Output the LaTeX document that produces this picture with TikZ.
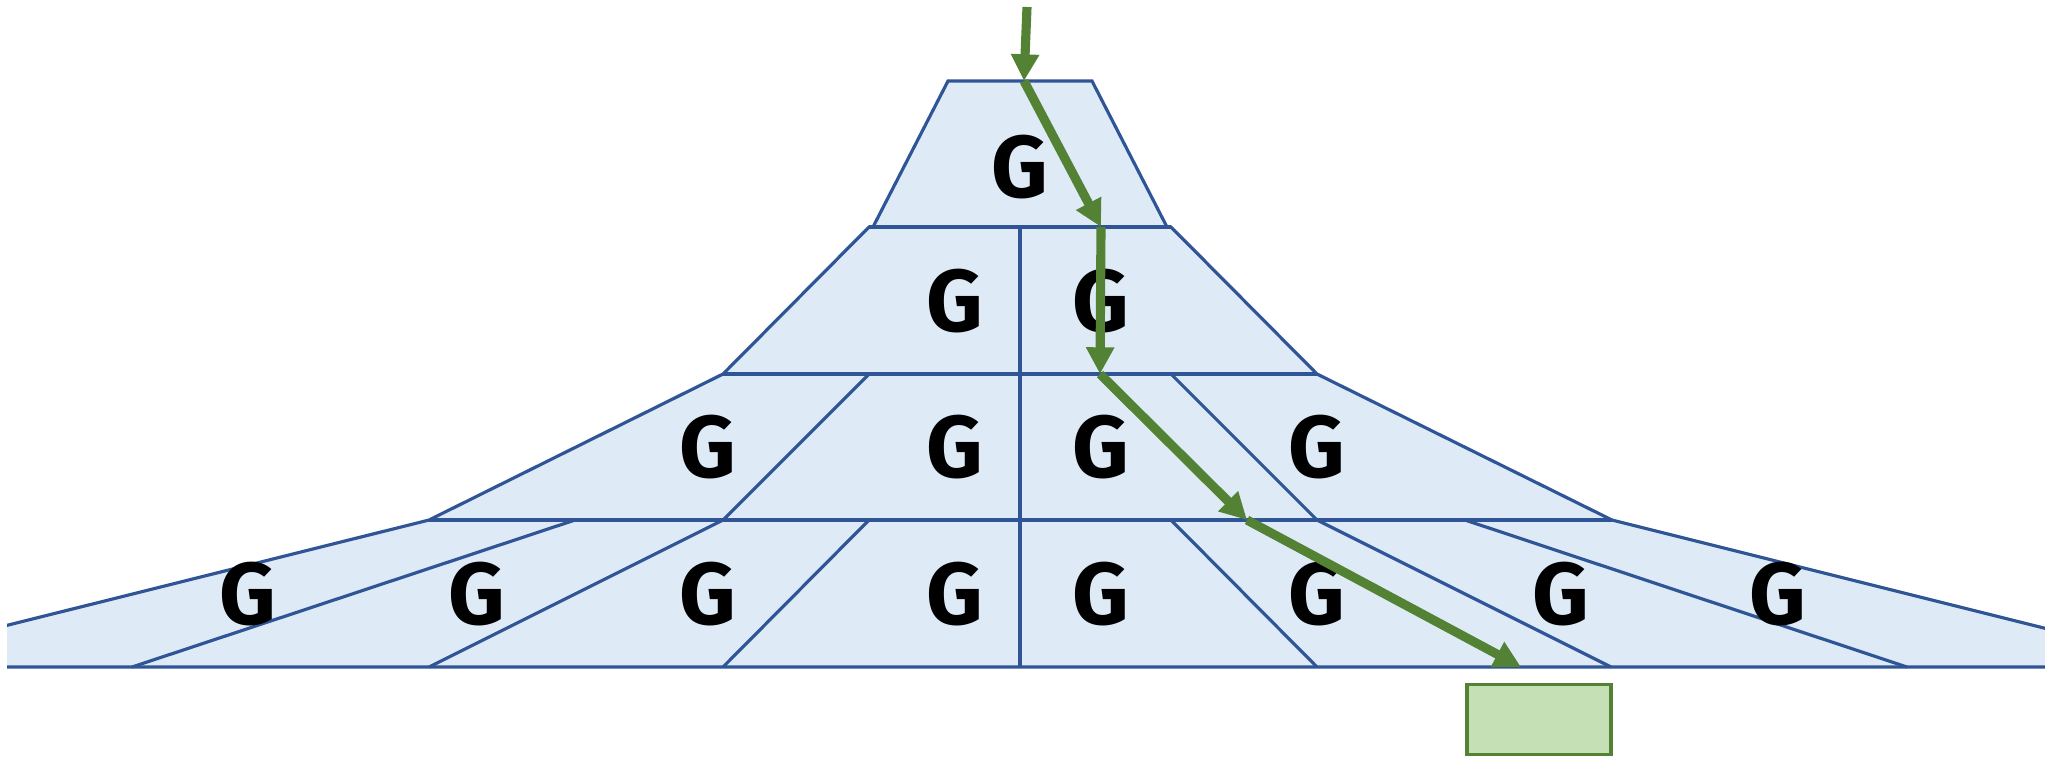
\documentclass[tikz,border=0pt]{standalone}
\usepackage{fontspec}
\setmainfont{Fira Sans}
\usepackage{xcolor}
\usepackage{tikz}
\usetikzlibrary{arrows.meta,positioning}
\definecolor{cellblue}{RGB}{222,235,247}
\definecolor{edgeblue}{RGB}{47,85,151}
\definecolor{pathgreen}{RGB}{84,130,53}
\definecolor{lightgreen}{RGB}{197,224,180}

\begin{document}
\begin{tikzpicture}[x=0.01cm,y=-0.01cm,font=\fontsize{25}{29}\selectfont\bfseries,
  cell/.style={draw=edgeblue,line width=0.9pt},
  gate/.style={inner sep=0pt},
  flow/.style={draw=pathgreen,line width=2.6pt,-{Triangle[length=7.6pt,width=7.6pt]}},
  outbox/.style={draw=pathgreen,line width=1pt,fill=lightgreen,minimum width=1.44cm,minimum height=0.7cm,inner sep=0pt}
]
  \useasboundingbox (0,0) rectangle (2045,756);
  % pyramid of cells, cut at the picture edges
  \begin{scope}
    \clip (7,0) rectangle (2045,756);
    \filldraw[cell,fill=cellblue] (948,81) -- (1092,81) -- (1167,227) -- (1171,227) -- (1317,374) -- (1612,520)
      -- (2200,667) -- (-160,667) -- (429,520) -- (723,374) -- (869,227) -- (873,227) -- cycle;
    \draw[cell] (869,227) -- (1171,227) (723,374) -- (1317,374) (429,520) -- (1612,520) (1020,227) -- (1020,667);
    \draw[cell] (869,374) -- (723,520) (1171,374) -- (1317,520);
    \draw[cell] (869,520) -- (723,667) (1171,520) -- (1317,667) (723,520) -- (429,667) (1317,520) -- (1611,667)
      (575,520) -- (132,667) (1465,520) -- (1907,667);
  \end{scope}
  % gates
  \node[gate] (g1) at (1020,167) {G};
  \node[gate] (g2l) at (955,301) {G};
  \node[gate] (g2r) at (1101,301) {G};
  \node[gate] (g3a) at (708,447) {G};
  \node[gate] (g3b) at (955,447) {G};
  \node[gate] (g3c) at (1101,447) {G};
  \node[gate] (g3d) at (1317,447) {G};
  \node[gate] (g4a) at (248,594) {G};
  \node[gate] (g4b) at (477,594) {G};
  \node[gate] (g4c) at (708,594) {G};
  \node[gate] (g4d) at (955,594) {G};
  \node[gate] (g4e) at (1101,594) {G};
  \node[gate] (g4f) at (1317,594) {G};
  \node[gate] (g4g) at (1561,594) {G};
  \node[gate] (g4h) at (1778,594) {G};
  % path through the levels
  \coordinate (src) at (1027,7);
  \coordinate (hit0) at (1024,81);
  \coordinate (hit1) at (1101,227);
  \coordinate (hit2) at (1100,374);
  \coordinate (hit3) at (1247,520);
  \coordinate (hit4) at (1521,667);
  \draw[flow] (src) -- (hit0);
  \draw[flow] (hit0) -- (hit1);
  \draw[flow] (hit1) -- (hit2);
  \draw[flow] (hit2) -- (hit3);
  \draw[flow] (hit3) -- (hit4);
  \node[outbox] (out) at (1539,719.5) {};
\end{tikzpicture}
\end{document}
